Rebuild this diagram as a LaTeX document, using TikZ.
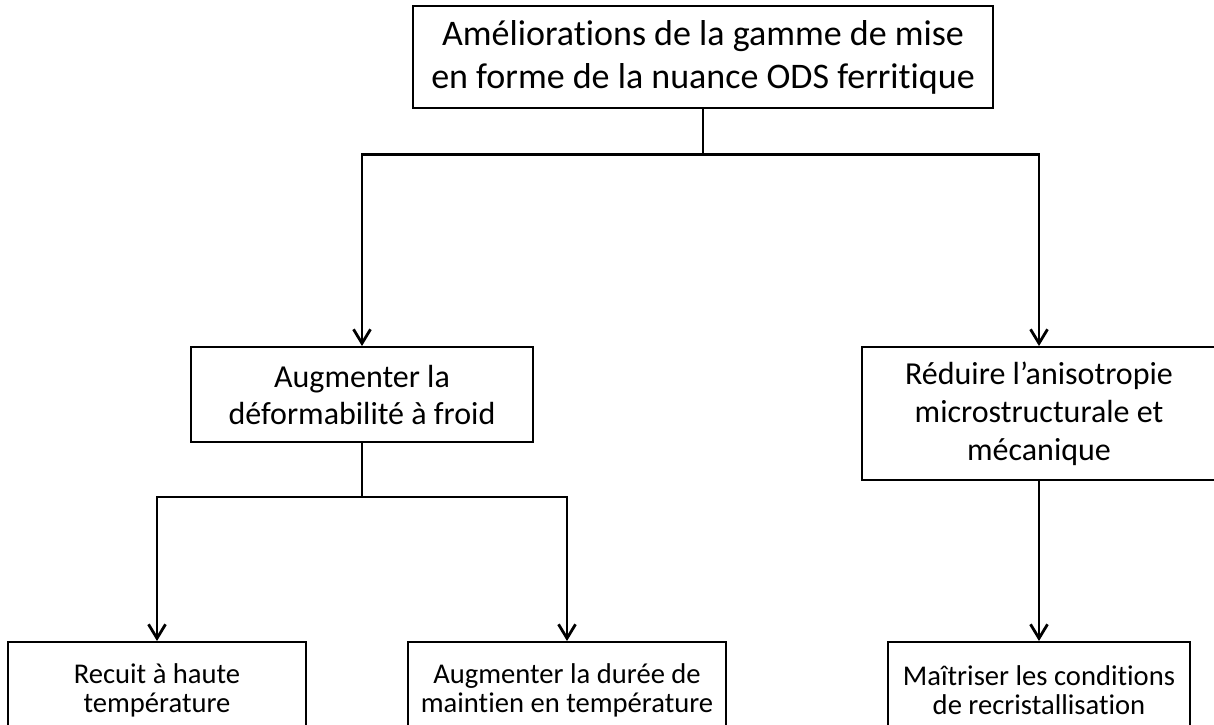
\documentclass[tikz,border=0pt]{standalone}
\usepackage{fontspec}
\setmainfont{Carlito}[Ligatures=NoCommon, Contextuals=NoAlternate]
\usetikzlibrary{arrows.meta}
\begin{document}
\begin{tikzpicture}[x=0.5pt,y=-0.5pt,
  box/.style={draw, line width=1pt, rectangle, align=center, inner sep=0pt,
    font=\fontsize{14.3}{14.5}\selectfont},
  midbox/.style={box, font=\fontsize{16}{18.5}\selectfont},
  topbox/.style={draw, line width=0.8pt, rectangle, align=center, inner sep=0pt,
    font=\fontsize{18}{21.5}\selectfont},
  conn/.style={line width=1.4pt},
  arr/.style={line width=1.4pt, -{Straight Barb[length=7pt,width=8.5pt,line width=1.4pt]}}]
\fill[white] (0,0) rectangle (1214,724);
\useasboundingbox (0,0) rectangle (1214,724);
\node[topbox, minimum width=290pt, minimum height=51pt] (top) at (703,57)
  {Améliorations de la gamme de mise\\en forme de la nuance ODS ferritique};
\node[midbox, minimum width=171pt, minimum height=47.5pt] (midL) at (362,394.5)
  {Augmenter la\\déformabilité à froid};
\node[midbox, minimum width=177pt, minimum height=66.5pt,
  font=\fontsize{16}{19}\selectfont] (midR) at (1039,413.5)
  {Réduire l’anisotropie\\microstructurale et\\mécanique};
\node[box, minimum width=149pt, minimum height=48.5pt] (botL) at (157,690.5)
  {Recuit à haute\\température};
\node[box, minimum width=159pt, minimum height=48.5pt] (botM) at (567,690.5)
  {Augmenter la durée de\\maintien en température};
\node[box, minimum width=151pt, minimum height=48.5pt] (botR) at (1039,690.5)
  {Maîtriser les conditions\\de recristallisation};
\path (top.south) ++(0,46) coordinate (j1);
\path (midL.south) ++(0,54) coordinate (j2);
\draw[conn] (top.south) -- (j1);
\draw[arr] (j1) -| (midL.north);
\draw[arr] (j1) -| (midR.north);
\draw[conn] (midL.south) -- (j2);
\draw[arr] (j2) -| (botL.north);
\draw[arr] (j2) -| (botM.north);
\draw[arr] (midR.south) -- (botR.north);
\end{tikzpicture}
\end{document}
